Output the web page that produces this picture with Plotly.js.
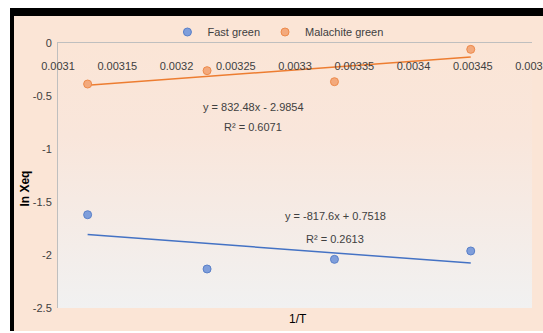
<!DOCTYPE html>
<html>
<head>
<meta charset="utf-8">
<script src="https://cdn.plot.ly/plotly-3.0.1.min.js"></script>
<style>
  html, body { margin:0; padding:0; background:#ffffff; width:543px; height:333px; overflow:hidden; }
  #frame { position:absolute; left:10px; top:8px; border-top:8px solid #000; border-left:4px solid #000; width:529px; height:315px; }
  #chart { width:529px; height:315px; }
</style>
</head>
<body>
<div id="frame"><div id="chart"></div></div>
<script>
// ---- data ----
const invT = [0.003125, 0.0032258, 0.0033333, 0.0034483];
const fastGreen = [-1.62, -2.132, -2.041, -1.962];
const malachiteGreen = [-0.387, -0.261, -0.365, -0.06];
const seriesNames = ["Fast green", "Malachite green"];
const eqFast = ["y = -817.6x + 0.7518", "R² = 0.2613"];
const eqMal = ["y = 832.48x - 2.9854", "R² = 0.6071"];
const xTickVals = [0.0031, 0.00315, 0.0032, 0.00325, 0.0033, 0.00335, 0.0034, 0.00345, 0.0035];
const xTickText = ["0.0031", "0.00315", "0.0032", "0.00325", "0.0033", "0.00335", "0.0034", "0.00345", "0.0035"];
const yTickVals = [0, -0.5, -1, -1.5, -2, -2.5];
const yTickText = ["0", "-0.5", "-1", "-1.5", "-2", "-2.5"];
const xTitle = "1/T";
const yTitle = "ln Xeq";

// ---- linear fit ----
function fit(xs, ys) {
  const n = xs.length;
  const mx = xs.reduce((a,b)=>a+b,0)/n, my = ys.reduce((a,b)=>a+b,0)/n;
  let sxy = 0, sxx = 0;
  for (let i=0;i<n;i++){ sxy += (xs[i]-mx)*(ys[i]-my); sxx += (xs[i]-mx)**2; }
  const m = sxy/sxx, b = my - m*mx;
  const x0 = Math.min(...xs), x1 = Math.max(...xs);
  return {x:[x0,x1], y:[m*x0+b, m*x1+b]};
}
const fFast = fit(invT, fastGreen);
const fMal = fit(invT, malachiteGreen);

const FONT = "'Liberation Sans', Arial, sans-serif";
const FS = 11;
const blue = '#4472c4', orange = '#ed7d31';

const traces = [
  {x:fFast.x, y:fFast.y, mode:'lines', line:{color:blue, width:1.5}, showlegend:false, hoverinfo:'skip'},
  {x:fMal.x, y:fMal.y, mode:'lines', line:{color:orange, width:1.5}, showlegend:false, hoverinfo:'skip'},
  {x:invT, y:fastGreen, name:seriesNames[0], mode:'markers', type:'scatter',
   marker:{size:8, color:'#7f9edb', line:{color:'#5a80c8', width:1}}},
  {x:invT, y:malachiteGreen, name:seriesNames[1], mode:'markers', type:'scatter',
   marker:{size:8, color:'#f3a97c', line:{color:'#ee8a4a', width:1}}}
];

const grad = "data:image/svg+xml;base64," + btoa(
  '<svg xmlns="http://www.w3.org/2000/svg" width="100" height="100" preserveAspectRatio="none">' +
  '<defs><linearGradient id="g" x1="0" y1="0" x2="0" y2="1">' +
  '<stop offset="0" stop-color="#fbe5d6"/><stop offset="0.35" stop-color="#f9e6db"/><stop offset="1" stop-color="#f1f1f1"/>' +
  '</linearGradient></defs><rect width="100" height="100" fill="url(#g)"/></svg>');

const annFont = {family:FONT, size:FS, color:'#404040'};
const layout = {
  width:529, height:315,
  margin:{l:44, r:11, t:27, b:23, autoexpand:false},
  paper_bgcolor:'#fbe5d6',
  plot_bgcolor:'rgba(0,0,0,0)',
  font:{family:FONT, size:FS, color:'#404040'},
  images:[{source:grad, xref:'paper', yref:'paper', x:0, y:1, sizex:1, sizey:1, sizing:'stretch', layer:'below', xanchor:'left', yanchor:'top'}],
  xaxis:{range:[0.0031, 0.0035], tickvals:xTickVals, ticktext:xTickText, side:'top',
    ticklabelposition:'inside', ticklabeloverflow:'allow', ticks:'inside', ticklen:19, tickcolor:'rgba(0,0,0,0)',
    showline:true, linecolor:'#bfbfbf', linewidth:1.5, showgrid:false, zeroline:false,
    tickfont:{family:FONT, size:FS, color:'#404040'}},
  yaxis:{range:[-2.5, 0], tickvals:yTickVals, ticktext:yTickText, ticklabelstandoff:3,
    showline:true, linecolor:'#bfbfbf', linewidth:1, showgrid:false, zeroline:false, ticks:'',
    tickfont:{family:FONT, size:FS, color:'#404040'}},
  legend:{orientation:'h', x:0.464, xanchor:'center', y:1.0415, yanchor:'middle',
    font:{family:FONT, size:FS, color:'#404040'}, bgcolor:'rgba(0,0,0,0)', itemwidth:30, tracegroupgap:0},
  annotations:[
    {text:eqMal[0], x:0.0032646, y:-0.604, xref:'x', yref:'y', showarrow:false, font:annFont},
    {text:eqMal[1], x:0.0032646, y:-0.792, xref:'x', yref:'y', showarrow:false, font:annFont},
    {text:eqFast[0], x:0.0033338, y:-1.632, xref:'x', yref:'y', showarrow:false, font:annFont},
    {text:eqFast[1], x:0.0033338, y:-1.849, xref:'x', yref:'y', showarrow:false, font:annFont},
    {text:'<b>'+yTitle+'</b>', textangle:-90, xref:'paper', yref:'paper', x:-0.07, y:0.45, xanchor:'center', yanchor:'middle', showarrow:false, font:{family:FONT, size:12, color:'#000'}},
    {text:xTitle, xref:'paper', yref:'paper', x:0.506, y:-0.04, xanchor:'center', yanchor:'middle', showarrow:false, font:{family:FONT, size:12, color:'#000'}}
  ]
};
Plotly.newPlot('chart', traces, layout, {displayModeBar:false, staticPlot:true});
</script>
</body>
</html>
